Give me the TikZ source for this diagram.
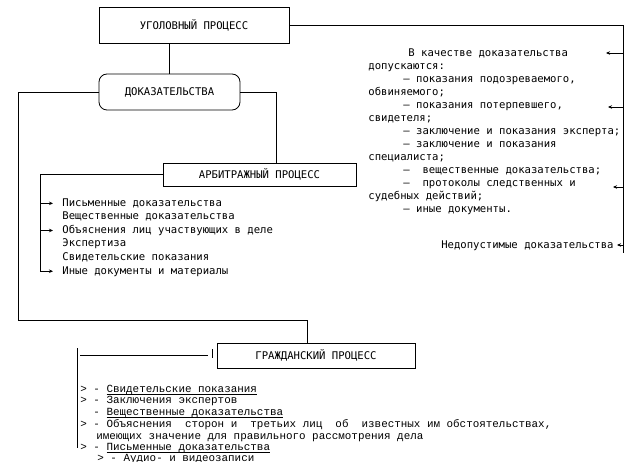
\documentclass[tikz,border=0pt]{standalone}
\usepackage{fontspec}
\newfontfamily\scrfont{DejaVu Sans Mono}
\newfontfamily\typfont{Liberation Mono}
\usetikzlibrary{arrows.meta}
\newcommand\ulword[1]{\underline{\smash{#1}}}

\begin{document}
\begin{tikzpicture}[x=1pt,y=-1pt,line width=0.8pt,
    box/.style={draw,inner sep=0,font=\scrfont\fontsize{10.6}{13}\selectfont},
    item/.style={anchor=base west,inner sep=0,font=\scrfont\fontsize{10.6}{13}\selectfont},
    civ/.style={anchor=base west,inner sep=0,font=\typfont\fontsize{10.9}{12}\selectfont},
    arr/.style={-{Stealth[length=4pt,width=3.5pt]}}]

  \useasboundingbox (0,0) rectangle (642,462);

  % Boxes
  \node[box,minimum width=190,minimum height=36] (ugol) at (194,25) {УГОЛОВНЫЙ ПРОЦЕСС};
  \node[box,rounded corners=8pt,minimum width=141,minimum height=36] (dokaz) at (169.5,92) {ДОКАЗАТЕЛЬСТВА};
  \node[box,minimum width=193,minimum height=23] (arb) at (259.5,174.5) {АРБИТРАЖНЫЙ ПРОЦЕСС};
  \node[box,minimum width=198,minimum height=25] (grazh) at (316,355.5) {ГРАЖДАНСКИЙ ПРОЦЕСС};

  % Connectors
  \draw (ugol.south -| dokaz.north) -- (dokaz.north);
  \draw (ugol.east) -| (623,253);
  \draw (dokaz.east) -| ([xshift=17pt]arb.north);
  \draw (dokaz.west) -| (18,320) -| ([xshift=-9pt]grazh.north);

  % Criminal process: admissible evidence
  \foreach \x/\y/\t [count=\i] in {408/53/{В качестве доказательства}, 368/66/{допускаются:},
      403/79/{– показания подозреваемого,}, 368/92/{обвиняемого;},
      403/105/{– показания потерпевшего,}, 368/118/{свидетеля;},
      403/131/{– заключение и показания эксперта;}, 403/144/{– заключение и показания},
      368/157/{специалиста;}, 403/170/{–~~вещественные доказательства;},
      403/183/{–~~протоколы следственных и}, 368/196/{судебных действий;},
      403/209/{– иные документы.}}
    \node[item] (adm\i) at (\x,\y+3.5) {\t};
  \node[item,anchor=base east] (bad) at (614,248.5) {Недопустимые доказательства};
  \foreach \y/\x in {53/606,107/608,187/613,245/617}
    \draw[arr] (623,\y) -- (\x,\y);

  % Arbitration process
  \foreach \t [count=\i] in {Письменные доказательства, Вещественные доказательства,
      Объяснения лиц участвующих в деле, Экспертиза, Свидетельские показания,
      Иные документы и материалы}
    \node[item] (arb\i) at (62,193+13.5*\i) {\t};
  \draw[arr] (arb.west) -| ([xshift=-22pt]arb6.west) -- ([xshift=-9pt]arb6.west);
  \foreach \i in {1,3}
    \draw[arr] ([xshift=-22pt]arb\i.west) -- ([xshift=-9pt]arb\i.west);

  % Civil process
  \draw ([xshift=-9pt]grazh.west) -- ++(-128,0);
  \draw (212,349) -- (212,358);
  \draw (77,348) -- (77,448);
  \node[civ] (civ1) at (80,392.5) {> - \ulword{Свидетельские показания}};
  \node[civ] (civ2) at (80,403.5) {> - Заключения экспертов};
  \node[civ] (civ3) at (80,415.5) {~~- \ulword{Вещественные доказательства}};
  \node[civ] (civ4) at (80,427.5) {> - Объяснения~ сторон и~ третьих лиц~ об~ известных им обстоятельствах,};
  \node[civ] (civ5) at (96,439.5) {имеющих значение для правильного рассмотрения дела};
  \node[civ] (civ6) at (80,450.5) {> - \ulword{Письменные доказательства}};
  \node[civ] (civ7) at (97,461) {> - Аудио- и видеозаписи};

\end{tikzpicture}
\end{document}
